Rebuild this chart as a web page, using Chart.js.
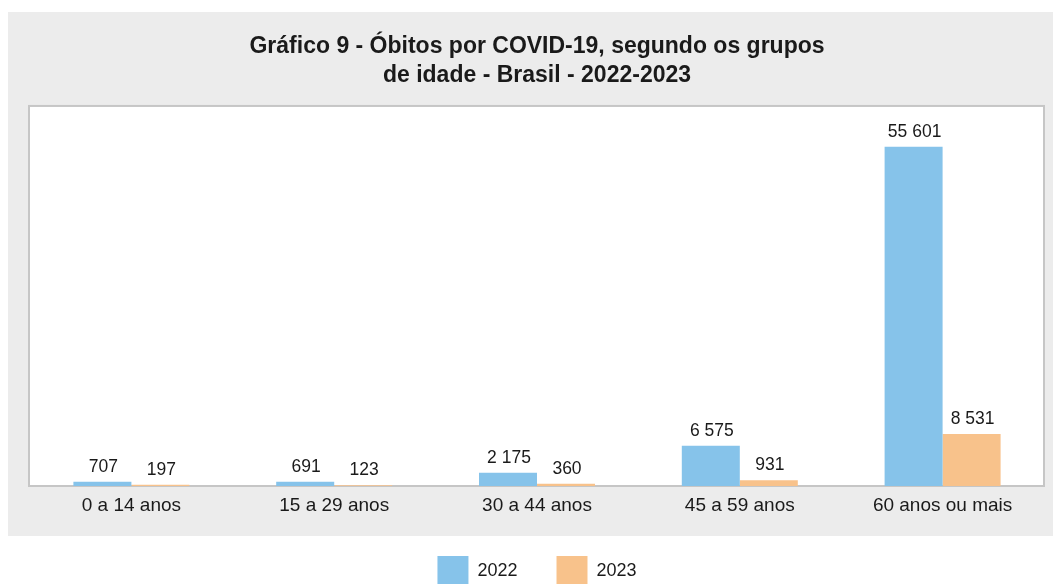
<!DOCTYPE html>
<html lang="pt-BR">
<head>
<meta charset="UTF-8">
<title>Óbitos por COVID-19 por grupos de idade</title>
<script src="https://cdn.jsdelivr.net/npm/chart.js"></script>
<style>
  html, body { margin: 0; padding: 0; background: #fff; overflow: hidden; }
  canvas { display: block; }
</style>
</head>
<body>
<canvas id="grafico" width="1053" height="600"></canvas>
<script>
  // dados do gráfico
  const grupos = ['0 a 14 anos', '15 a 29 anos', '30 a 44 anos', '45 a 59 anos', '60 anos ou mais'];
  const obitos2022 = [707, 691, 2175, 6575, 55601];
  const obitos2023 = [197, 123, 360, 931, 8531];
  const anos = ['2022', '2023'];

  const azul = '#86c3ea';
  const laranja = '#f8c28b';
  const FONTE = "'Liberation Sans', Arial, Helvetica, sans-serif";

  // formata com espaço como separador de milhar (ex.: 55 601)
  function formatar(n) {
    return String(n).replace(/\B(?=(\d{3})+(?!\d))/g, ' ');
  }

  // fundo cinza do quadro e moldura branca da área do gráfico
  const fundo = {
    id: 'fundo',
    beforeDraw(chart) {
      const { ctx, chartArea: a } = chart;
      ctx.save();
      ctx.fillStyle = '#ececec';
      ctx.fillRect(8, 12, chart.width - 8, 524);
      ctx.fillStyle = '#ffffff';
      ctx.fillRect(a.left, a.top, a.right - a.left, a.bottom - a.top);
      ctx.strokeStyle = '#c6c6c6';
      ctx.lineWidth = 2;
      ctx.strokeRect(a.left - 1, a.top - 1, a.right - a.left + 1, a.bottom - a.top + 1);
      ctx.restore();
    }
  };

  // valores acima de cada barra
  const rotulos = {
    id: 'rotulos',
    afterDatasetsDraw(chart) {
      const { ctx } = chart;
      ctx.save();
      ctx.font = '17.5px ' + FONTE;
      ctx.fillStyle = '#1a1a1a';
      ctx.textAlign = 'center';
      ctx.textBaseline = 'alphabetic';
      chart.data.datasets.forEach((ds, i) => {
        chart.getDatasetMeta(i).data.forEach((bar, j) => {
          ctx.fillText(formatar(ds.data[j]), bar.x + 1, bar.y - 10);
        });
      });
      ctx.restore();
    }
  };

  new Chart(document.getElementById('grafico'), {
    type: 'bar',
    data: {
      labels: grupos,
      datasets: [
        { label: anos[0], data: obitos2022, backgroundColor: azul },
        { label: anos[1], data: obitos2023, backgroundColor: laranja }
      ]
    },
    options: {
      responsive: false,
      animation: false,
      devicePixelRatio: 1,
      layout: { padding: { left: 30, right: 9, top: 0, bottom: 3 } },
      datasets: {
        bar: { categoryPercentage: 0.572, barPercentage: 1.0 }
      },
      scales: {
        x: {
          grid: { display: false, drawTicks: false },
          border: { display: false },
          ticks: {
            color: '#1a1a1a',
            padding: 8,
            font: { family: FONTE, size: 19 }
          },
          afterFit(axis) { axis.height = 31; }
        },
        y: {
          display: false,
          min: 0,
          max: 62100
        }
      },
      plugins: {
        title: {
          display: true,
          text: ['Gráfico 9 - Óbitos por COVID-19, segundo os grupos', 'de idade - Brasil - 2022-2023'],
          color: '#1a1a1a',
          font: { family: FONTE, size: 23, weight: 'bold', lineHeight: 1.26 },
          padding: { top: 32, bottom: 17 }
        },
        legend: {
          position: 'bottom',
          labels: {
            boxWidth: 31,
            boxHeight: 31,
            padding: 39,
            color: '#1a1a1a',
            font: { family: FONTE, size: 18 }
          }
        },
        tooltip: { enabled: false }
      }
    },
    plugins: [fundo, rotulos]
  });
</script>
</body>
</html>
